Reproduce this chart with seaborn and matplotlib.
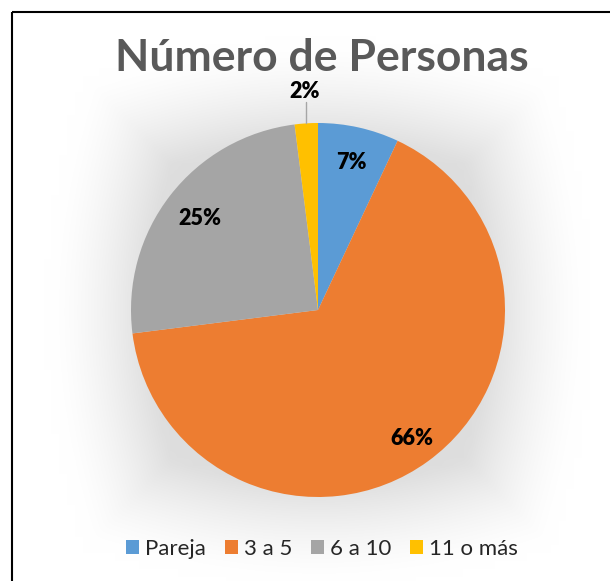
import numpy as np
import matplotlib
matplotlib.use("Agg")
import matplotlib.pyplot as plt
import seaborn as sns
from matplotlib.patches import Rectangle, Patch

# data
categories = ["Pareja", "3 a 5", "6 a 10", "11 o más"]
values = [7, 66, 25, 2]
colors = ["#5B9BD5", "#ED7D31", "#A5A5A5", "#FFC000"]
label_dist = [0.81, 0.85, 0.80, 1.17]

sns.set_theme(style="white")
plt.rcParams['font.family'] = ['Lato', 'DejaVu Sans']

W, H = 610, 581
fig = plt.figure(figsize=(W / 100, H / 100), dpi=100)
fig.patch.set_facecolor("white")

# soft glow behind the pie
cx, cy, r = 318, 310, 187
bg = fig.add_axes([0, 0, 1, 1])
bg.set_xlim(0, W)
bg.set_ylim(H, 0)
bg.axis("off")
yy, xx = np.mgrid[0:H:8, 0:W:8]
d = np.maximum(np.abs(xx - cx), np.abs(yy - cy)) * 0.6 + np.hypot(xx - cx, yy - cy) * 0.4
g = np.clip((d - r + 15) / 100, 0, 1)
shade = 1 - 0.13 * (1 - g) ** 1.5
img = np.dstack([shade, shade, shade])
bg.imshow(img, extent=[0, W, H, 0], interpolation="bilinear", aspect="auto")

# frame border
bg.add_patch(Rectangle((12, 12), W, H, fill=False, edgecolor="black", linewidth=1.5))

ax = fig.add_axes([(cx - r) / W, 1 - (cy + r) / H, 2 * r / W, 2 * r / H])
wedges, _ = ax.pie(values, colors=colors, startangle=90, counterclock=False,
                   radius=1, wedgeprops=dict(linewidth=0))
ax.set_xlim(-1, 1)
ax.set_ylim(-1, 1)
ax.set_aspect("auto")

total = sum(values)
for w, v, k in zip(wedges, values, label_dist):
    ang = np.deg2rad((w.theta1 + w.theta2) / 2)
    x, y = k * np.cos(ang), k * np.sin(ang)
    ax.text(x, y, f"{v / total * 100:.0f}%", ha="center", va="center",
            fontsize=15.5, fontweight="heavy", color="black", clip_on=False)
    if k > 1:
        ax.plot([np.cos(ang), np.cos(ang)], [np.sin(ang), 1.11], color="#A6A6A6",
                linewidth=1, clip_on=False)

fig.text(322 / W, 1 - 58 / H, "Número de Personas", ha="center", va="center",
         fontsize=32, fontweight="bold", color="#595959")

handles = [Patch(facecolor=c, edgecolor="none") for c in colors]
fig.legend(handles, categories, loc="center", bbox_to_anchor=(322 / W, 1 - 549 / H),
           ncol=4, frameon=False, fontsize=16, handlelength=0.6, handleheight=0.6,
           handletextpad=0.25, columnspacing=0.85)

fig.savefig("out.png", dpi=100)
